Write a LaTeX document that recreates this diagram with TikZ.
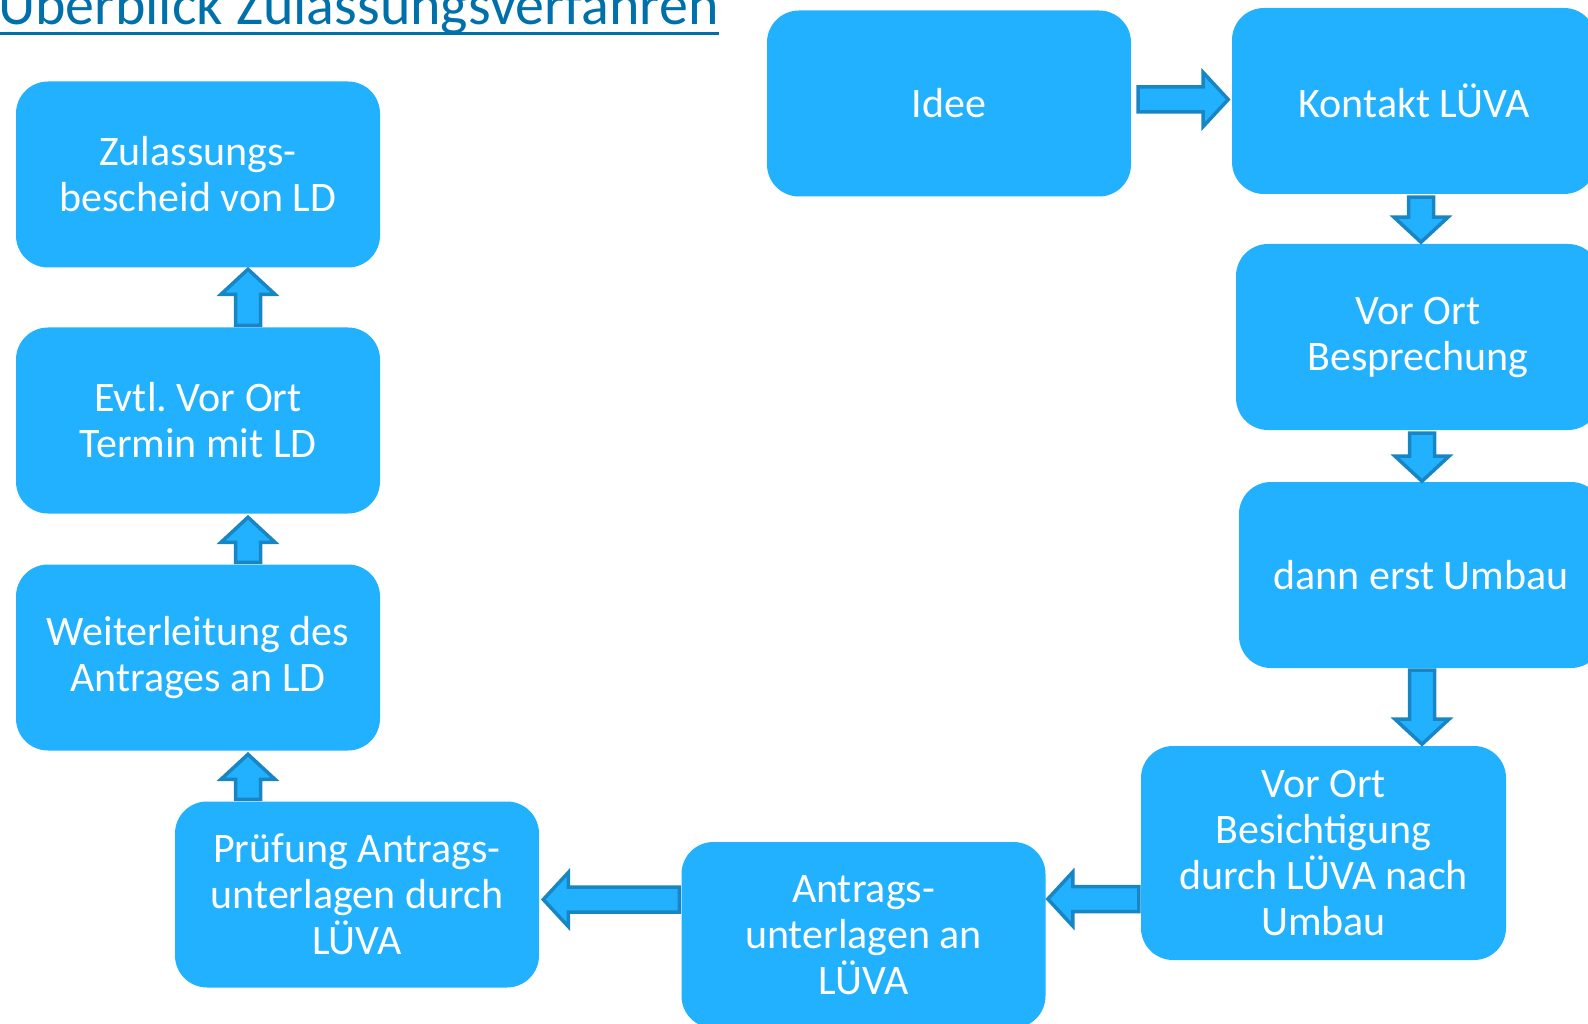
\documentclass[tikz,border=0pt]{standalone}
\usepackage{fontspec}
\setmainfont{Carlito}
\frenchspacing
\usetikzlibrary{calc}
\definecolor{boxblue}{RGB}{33,177,255}
\definecolor{arrowline}{RGB}{24,134,196}
\definecolor{titleblue}{RGB}{0,112,170}
\newcommand\blkarrow[3]{\draw[blockarrow,shift={#1},rotate=#2] (0,-12.5) -- (#3-25,-12.5) -- (#3-25,-27) -- (#3,0) -- (#3-25,27) -- (#3-25,12.5) -- (0,12.5) -- cycle;}
\tikzset{
  boxstyle/.style={fill=boxblue, rounded corners=32, minimum width=364, minimum height=186,
    inner sep=0, align=center, text=white, font=\fontsize{42}{46}\selectfont},
  blockarrow/.style={fill=boxblue, draw=arrowline, line width=3.5, line join=miter},
  titlestyle/.style={text=titleblue, inner sep=0, font=\fontsize{58}{61}\selectfont}
}
\begin{document}
\begin{tikzpicture}[x=1pt,y=-1pt]
\useasboundingbox (0,0) rectangle (1588,1024);
\clip (0,0) rectangle (1588,1024);
% title
\node[titlestyle, anchor=base west] (title) at (-2,25) {Überblick Zulassungsverfahren};
\draw[titleblue, line width=3] ($(title.base west)+(2,9)$) -- ($(title.base east)+(0,9)$);
% boxes
\node[boxstyle] (idee) at (949,103.5) {Idee};
\node[boxstyle] (kontakt) at (1414,101) {Kontakt LÜVA};
\node[boxstyle] (bespr) at (1418,337) {Vor Ort\\Besprechung};
\node[boxstyle] (umbau) at (1421,575) {dann erst Umbau};
\node[boxstyle, minimum width=365, minimum height=214] (besicht) at (1323.5,853) {Vor Ort\\Besichtigung\\durch LÜVA nach\\Umbau};
\node[boxstyle] (antrag) at (863.5,935) {Antrags-\\unterlagen an\\LÜVA};
\node[boxstyle] (pruef) at (357,894.5) {Prüfung Antrags-\\unterlagen durch\\LÜVA};
\node[boxstyle] (weiter) at (198,657.5) {Weiterleitung des\\Antrages an LD};
\node[boxstyle] (evtl) at (198,420.5) {Evtl. Vor Ort\\Termin mit LD};
\node[boxstyle] (zul) at (198,174.5) {Zulassungs-\\bescheid von LD};
% block arrows
\blkarrow{($(idee.east)+(7,-4)$)}{0}{90}
\blkarrow{($(kontakt.south)+(7,3)$)}{-90}{45}
\blkarrow{($(bespr.south)+(4,3)$)}{-90}{48}
\blkarrow{($(umbau.south)+(1,2)$)}{-90}{74}
\blkarrow{($(besicht.west)+(-2,46)$)}{180}{91}
\blkarrow{($(antrag.west)+(-2,-35.5)$)}{180}{136}
\blkarrow{($(pruef.north)+(-109,-2)$)}{90}{45}
\blkarrow{($(weiter.north)+(50,-2)$)}{90}{45}
\blkarrow{($(evtl.north)+(50,-2)$)}{90}{56}
\end{tikzpicture}
\end{document}
